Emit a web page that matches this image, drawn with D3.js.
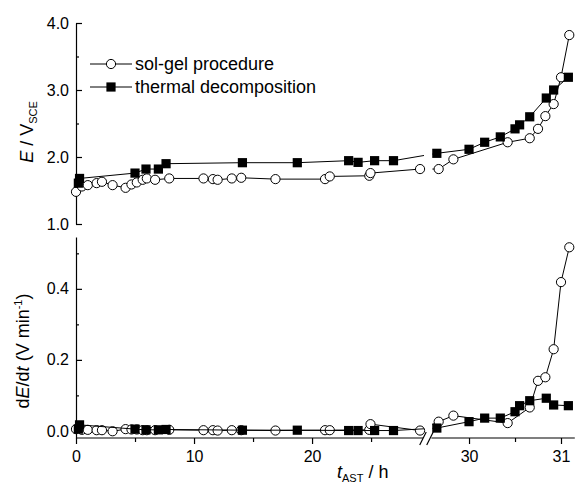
<!DOCTYPE html>
<html>
<head>
<meta charset="utf-8">
<script src="https://cdn.jsdelivr.net/npm/d3@7/dist/d3.min.js"></script>
<style>
  body { margin: 0; background: #fff; }
  svg { display: block; font-family: "Liberation Sans", Arial, sans-serif; }
</style>
</head>
<body>
<div id="grafico"></div>
<script>
// Dados (tempo em h, potencial E em V, dE/dt em V/min)
const tSol = [0, 0.5, 1.0, 1.75, 2.2, 3.1, 4.2, 4.7, 5.15, 5.65, 6.0, 6.7, 7.9, 10.8, 11.6, 12.0, 13.2, 14.0, 16.9, 21.1, 21.5, 24.85, 24.95, 29.15, 29.67, 29.83, 30.42, 30.66, 30.75, 30.83, 30.92, 31.0, 31.09];
const eSol = [1.48, 1.56, 1.58, 1.61, 1.63, 1.58, 1.54, 1.59, 1.62, 1.66, 1.68, 1.66, 1.68, 1.68, 1.67, 1.66, 1.68, 1.69, 1.67, 1.67, 1.71, 1.72, 1.76, 1.82, 1.82, 1.965, 2.22, 2.28, 2.42, 2.61, 2.79, 3.19, 3.82];
const dSol = [0.005, 0.003, 0.003, 0.002, 0.002, -0.001, 0.005, 0.004, 0.004, 0.002, 0.002, 0.002, 0.003, 0.002, 0.002, 0.001, 0.002, 0.002, 0.001, 0.002, 0.002, 0.003, 0.019, 0.001, 0.026, 0.043, 0.022, 0.066, 0.141, 0.151, 0.23, 0.419, 0.517];

const tTerm = [0.2, 0.3, 5.0, 5.93, 6.98, 7.63, 14.1, 18.75, 23.1, 23.9, 25.3, 26.9, 29.65, 30.0, 30.17, 30.34, 30.5, 30.55, 30.66, 30.84, 30.92, 31.08];
const eTerm = [1.61, 1.68, 1.76, 1.82, 1.82, 1.90, 1.915, 1.915, 1.945, 1.92, 1.945, 1.945, 2.055, 2.115, 2.22, 2.30, 2.42, 2.48, 2.60, 2.88, 3.0, 3.19];
const dTerm = [0.005, 0.017, 0.005, 0.003, 0.003, 0.004, 0.002, 0.002, 0.001, 0.001, 0.001, 0.001, 0.008, 0.026, 0.036, 0.036, 0.054, 0.071, 0.085, 0.092, 0.073, 0.071];

// Ticks
const ticksX = [0, 10, 20, 30, 31];
const ticksXMenor = [5, 15, 25, 30.5];
const ticksE = [1.0, 2.0, 3.0, 4.0];
const ticksEMenor = [1.5, 2.5, 3.5];
const ticksD = [0.0, 0.2, 0.4];
const ticksDMenor = [0.1, 0.3, 0.5];

// Legenda
const nomes = ['sol-gel procedure', 'thermal decomposition'];

const largura = 576;
const altura = 485;

const svg = d3.select('#grafico').append('svg')
  .attr('width', largura)
  .attr('height', altura);

// Escala do tempo com quebra (0-29.4 | 29.58-31.15)
const quebraA = 29.4, quebraB = 29.58;
const x = d3.scaleLinear()
  .domain([0, quebraA, quebraB, 31.15])
  .range([76, 423, 430.4, 574.8]);

const yE = d3.scaleLinear().domain([1, 4]).range([224, 23]);
const yD = d3.scaleLinear().domain([-0.02, 0.546]).range([438, 237]);

// Recortes dos dois lados da quebra
const defs = svg.append('defs');
defs.append('clipPath').attr('id', 'esq')
  .append('rect').attr('x', 0).attr('y', 0).attr('width', x(quebraA) + 1).attr('height', altura);
defs.append('clipPath').attr('id', 'dir')
  .append('rect').attr('x', x(quebraB) + 2).attr('y', 0).attr('width', largura).attr('height', altura);

// Eixos Y
function eixoY(escala, maiores, menores) {
  const g = svg.append('g').attr('transform', `translate(${x(0)},0)`);
  g.call(d3.axisLeft(escala).tickValues(maiores).tickSize(-6).tickSizeOuter(0)
    .tickPadding(7).tickFormat(d3.format('.1f')));
  g.append('g').call(d3.axisLeft(escala).tickValues(menores).tickSize(-3).tickSizeOuter(0).tickFormat(''))
    .select('.domain').remove();
  g.selectAll('text').attr('font-size', 16).attr('fill', '#000').attr('font-family', '"Liberation Sans", Arial, sans-serif');
  g.selectAll('line, path').attr('stroke', '#000').attr('stroke-width', 1.2);
}
eixoY(yE, ticksE, ticksEMenor);
eixoY(yD, ticksD, ticksDMenor);

// Eixo X (só no painel de baixo)
const gx = svg.append('g').attr('transform', `translate(0,${yD.range()[0]})`);
gx.call(d3.axisBottom(x).tickValues(ticksX).tickSize(6).tickPadding(7).tickFormat(d3.format('d')));
gx.append('g').call(d3.axisBottom(x).tickValues(ticksXMenor).tickSize(4).tickFormat(''))
  .select('.domain').remove();
gx.selectAll('.domain').remove();
gx.selectAll('text').attr('font-size', 16).attr('fill', '#000').attr('font-family', '"Liberation Sans", Arial, sans-serif');
gx.selectAll('line').attr('stroke', '#000').attr('stroke-width', 1.2);

// Linha do eixo em dois pedaços e marca da quebra
gx.append('line').attr('x1', x(0)).attr('x2', x(quebraA)).attr('stroke', '#000').attr('stroke-width', 1.2);
gx.append('line').attr('x1', x(quebraB) + 1).attr('x2', x.range()[3]).attr('stroke', '#000').attr('stroke-width', 1.2);
const meio = (x(quebraA) + x(quebraB)) / 2;
[-4, 3].forEach(dx => {
  gx.append('line')
    .attr('x1', meio + dx - 3).attr('y1', 7)
    .attr('x2', meio + dx + 3.5).attr('y2', -6)
    .attr('stroke', '#000').attr('stroke-width', 1.2);
});

// Séries
function serie(ts, vs, escala, tipo) {
  const pts = ts.map((t, i) => [x(t), escala(vs[i])]);
  const linha = d3.line();
  ['esq', 'dir'].forEach(c => {
    svg.append('path')
      .attr('d', linha(pts))
      .attr('clip-path', `url(#${c})`)
      .attr('fill', 'none')
      .attr('stroke', '#000')
      .attr('stroke-width', 1);
  });
  const g = svg.append('g');
  if (tipo === 'circulo') {
    g.selectAll('circle').data(pts).enter().append('circle')
      .attr('cx', d => d[0]).attr('cy', d => d[1]).attr('r', 4.6)
      .attr('fill', '#fff').attr('stroke', '#000').attr('stroke-width', 1);
  } else {
    g.selectAll('rect').data(pts).enter().append('rect')
      .attr('x', d => d[0] - 4.6).attr('y', d => d[1] - 4.6)
      .attr('width', 9.2).attr('height', 9.2).attr('fill', '#000');
  }
}
serie(tSol, eSol, yE, 'circulo');
serie(tTerm, eTerm, yE, 'quadrado');
serie(tSol, dSol, yD, 'circulo');
serie(tTerm, dTerm, yD, 'quadrado');

// Legenda
const leg = svg.append('g');
nomes.forEach((nome, i) => {
  const yy = 64 + i * 23;
  leg.append('line').attr('x1', 90).attr('x2', 132).attr('y1', yy).attr('y2', yy)
    .attr('stroke', '#000').attr('stroke-width', 1);
  if (i === 0) {
    leg.append('circle').attr('cx', 111).attr('cy', yy).attr('r', 4.6)
      .attr('fill', '#fff').attr('stroke', '#000');
  } else {
    leg.append('rect').attr('x', 111 - 4.6).attr('y', yy - 4.6).attr('width', 9.2).attr('height', 9.2).attr('fill', '#000');
  }
  leg.append('text').attr('x', 135).attr('y', yy).attr('dy', '0.36em')
    .attr('font-size', 18).text(nome);
});

// Títulos dos eixos
const tE = svg.append('text')
  .attr('transform', 'translate(33,132) rotate(-90)')
  .attr('text-anchor', 'middle').attr('font-size', 18);
tE.append('tspan').attr('font-style', 'italic').text('E');
tE.append('tspan').text(' / V');
tE.append('tspan').attr('font-size', 11).attr('dy', 4).text('SCE');

const tD = svg.append('text')
  .attr('transform', 'translate(29,351) rotate(-90)')
  .attr('text-anchor', 'middle').attr('font-size', 18);
tD.append('tspan').text('d');
tD.append('tspan').attr('font-style', 'italic').text('E');
tD.append('tspan').text('/d');
tD.append('tspan').attr('font-style', 'italic').text('t');
tD.append('tspan').text(' (V min');
tD.append('tspan').attr('font-size', 11).attr('dy', -7).text('-1');
tD.append('tspan').attr('dy', 7).text(')');

const tX = svg.append('text')
  .attr('x', 337).attr('y', 478).attr('font-size', 18);
tX.append('tspan').attr('font-style', 'italic').text('t');
tX.append('tspan').attr('font-size', 11).attr('dy', 4).text('AST');
tX.append('tspan').attr('dy', -4).text(' / h');
</script>
</body>
</html>
